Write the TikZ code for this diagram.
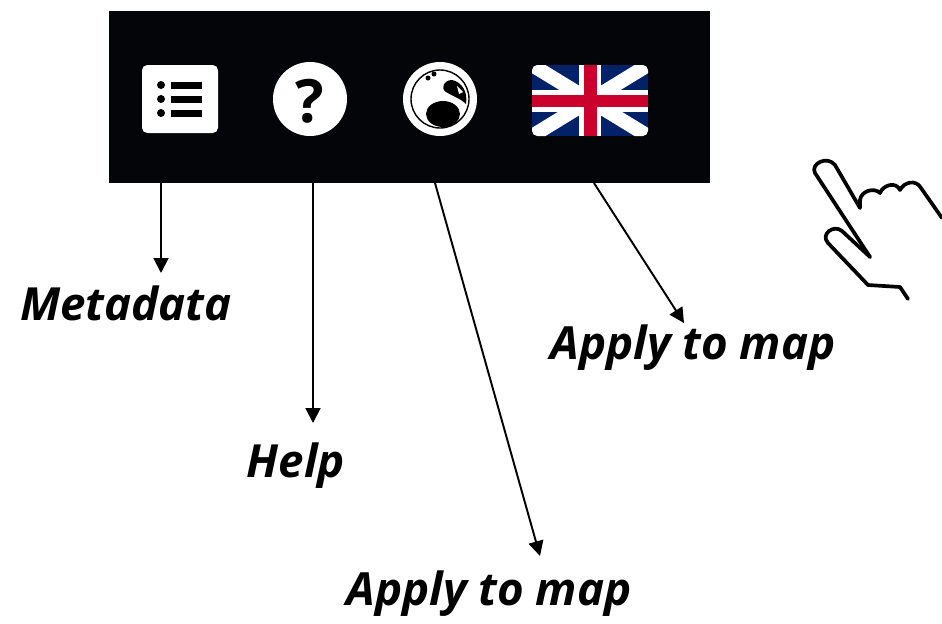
\documentclass[tikz,border=0pt]{standalone}
\usepackage{fontspec}
\setmainfont{Open Sans}
\usetikzlibrary{arrows.meta}

\definecolor{barblack}{RGB}{3,5,9}
\definecolor{jackblue}{RGB}{1,33,105}
\definecolor{jackred}{RGB}{204,0,44}

\tikzset{
	lbl/.style={font=\fontsize{26}{30}\selectfont\bfseries\itshape, anchor=base, inner sep=0pt},
	callout/.style={-{Triangle[length=8.5pt,width=8.5pt]}, line width=1.1pt},
	handline/.style={line width=2.1pt, line cap=round, line join=round},
}

\begin{document}
\begin{tikzpicture}[x=0.02cm,y=-0.02cm]
		\useasboundingbox (0,0) rectangle (942,623);
		% toolbar
		\fill[barblack] (109,11) rectangle (710,183);
		%
		% metadata (list) icon
		\fill[white, rounded corners=3pt] (142,65) rectangle (218,133);
		\foreach \yy in {85,99,113} {
			\fill[black] (161,\yy) circle (4);
			\fill[black] (171,\yy-3.5) rectangle (202,\yy+3.5);
		}
		%
		% help icon
		\fill[white] (310,99) circle (37);
		\node[font=\fontsize{34}{36}\selectfont\bfseries, text=black] (helpmark) at (310,101) {?};
		%
		% globe icon
		\fill[white] (440,99) circle (37);
		\draw[black, line width=0.8pt] (440,99) circle (29);
		\fill[black] (443,114) ellipse (17 and 13);
		\fill[black] (452,80) .. controls (462,82) and (468,92) .. (466,104)
			.. controls (460,98) and (452,96) .. (446,92) .. controls (440,88) and (444,80) .. (452,80);
		\fill[black] (428,78) circle (2.5) (434,74) circle (2.5);
		\fill[white] (457,86) -- (463,92) -- (459,94) -- cycle;
		%
		% flag icon
		\begin{scope}
			\clip[rounded corners=3pt] (532,65) rectangle (648,136);
			\fill[jackblue] (532,65) rectangle (648,136);
			\draw[white, line width=8pt] (532,65) -- (648,136) (532,136) -- (648,65);
			\fill[white] (579,65) rectangle (601,136);
			\fill[white] (532,89.5) rectangle (648,111.5);
			\fill[jackred] (583.5,65) rectangle (596.5,136);
			\fill[jackred] (532,94.5) rectangle (648,106.5);
		\end{scope}
		%
		% pointing hand
		\draw[handline] (870,257) -- (815,173) .. controls (810,164) and (827,155) .. (835,165) -- (860,208)
			-- (860,200) .. controls (861,191) and (874,187) .. (880,193)
			.. controls (883,185) and (896,181) .. (900,190)
			.. controls (904,182) and (916,179) .. (921,188) -- (942,218);
		\draw[handline] (870,257) -- (842,231) .. controls (834,224) and (820,234) .. (828,243)
			-- (868,285) -- (900,287) -- (908,299);
		%
		% labels
		\node[lbl] (metalbl) at (126,320) {Metadata};
		\node[lbl] (helplbl) at (296,477) {Help};
		\node[lbl] (globelbl) at (489,605) {Apply to map};
		\node[lbl] (flaglbl) at (693,359) {Apply to map};
		%
		\coordinate (metabase) at (161,183);
		\coordinate (helpbase) at (313,183);
		\coordinate (globebase) at (435,183);
		\coordinate (flagbase) at (594,183);
		\coordinate (metatip) at (161,273);
		\coordinate (helptip) at (313,423);
		\coordinate (globetip) at (540,556);
		\coordinate (flagtip) at (684,323);
		%
		\path[callout]
			(metabase) edge (metatip)
			(helpbase) edge (helptip)
			(globebase) edge (globetip)
			(flagbase) edge (flagtip);
\end{tikzpicture}
\end{document}
